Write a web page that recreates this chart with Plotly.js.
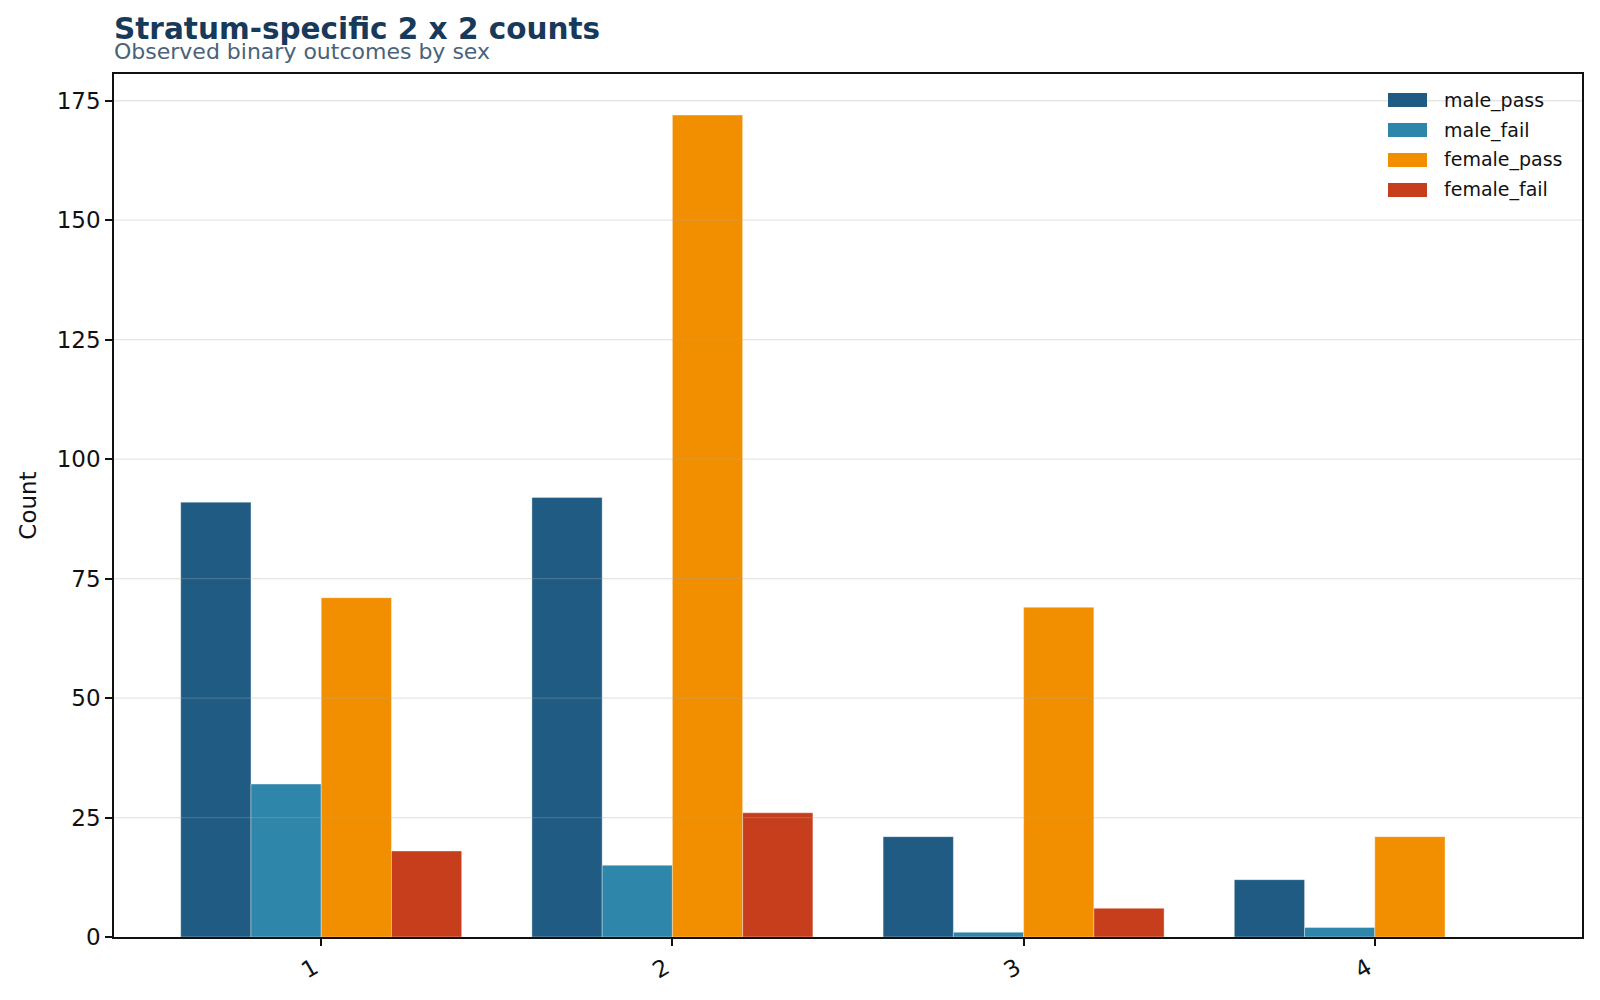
<!DOCTYPE html>
<html>
<head>
<meta charset="utf-8">
<script src="https://cdn.plot.ly/plotly-3.0.1.min.js"></script>
<style>
  html, body { margin: 0; padding: 0; background: #ffffff; }
  #chart { width: 1600px; height: 1000px; }
</style>
</head>
<body>
<div id="chart"></div>
<script>
// Strata and per-stratum counts of pass/fail outcomes by sex
const strata = [1, 2, 3, 4];
const malePass = [91, 92, 21, 12];
const maleFail = [32, 15, 1, 2];
const femalePass = [71, 172, 69, 21];
const femaleFail = [18, 26, 6, 0];
const countTicks = [0, 25, 50, 75, 100, 125, 150, 175];

const seriesNames = ['male_pass', 'male_fail', 'female_pass', 'female_fail'];
const seriesValues = [malePass, maleFail, femalePass, femaleFail];
const seriesColors = ['#1f5b83', '#2e86ab', '#f18f01', '#c73e1d'];

const font = 'DejaVu Sans, Verdana, sans-serif';

// Figure geometry (pixels)
const W = 1600, H = 1000;
const M = { l: 114, r: 18, t: 74, b: 63 };
const plotW = W - M.l - M.r;
const plotH = H - M.t - M.b;
const px2x = (px) => (px - M.l) / plotW;
const py2y = (py) => 1 - (py - M.t) / plotH;

const traces = seriesNames.map((name, i) => ({
  type: 'bar',
  name: name,
  x: strata,
  y: seriesValues[i],
  marker: {
    color: seriesColors[i],
    line: { color: 'rgba(255,255,255,0.6)', width: 0.6 }
  },
  showlegend: false,
  hoverinfo: 'x+y+name'
}));

const shapes = [];
const annotations = [];

// Translucent horizontal gridlines drawn over the bars
countTicks.filter((v) => v > 0).forEach((v) => {
  shapes.push({
    type: 'line', xref: 'paper', yref: 'y',
    x0: 0, x1: 1, y0: v, y1: v,
    line: { color: 'rgba(170,170,170,0.3)', width: 1.3 },
    layer: 'above'
  });
});

// Legend drawn as wide swatches with labels in the upper-right corner
const legendTop = 100, legendStep = 30, swatchH = 14;
const swatchX0 = 1388, swatchX1 = 1427, labelX = 1442;
seriesNames.forEach((name, i) => {
  const cy = legendTop + i * legendStep;
  shapes.push({
    type: 'rect', xref: 'paper', yref: 'paper',
    x0: px2x(swatchX0), x1: px2x(swatchX1),
    y0: py2y(cy + swatchH / 2), y1: py2y(cy - swatchH / 2),
    fillcolor: seriesColors[i], line: { width: 0 }, layer: 'above'
  });
  annotations.push({
    xref: 'paper', yref: 'paper',
    x: px2x(labelX), y: py2y(cy),
    xanchor: 'left', yanchor: 'middle',
    text: name, showarrow: false,
    font: { family: font, size: 19, color: '#111111' }
  });
});

// Title and subtitle, left-aligned with the plot frame
annotations.push({
  xref: 'paper', yref: 'paper', x: 0, y: py2y(29),
  xanchor: 'left', yanchor: 'middle', xshift: -2,
  text: '<b>Stratum-specific 2 x 2 counts</b>', showarrow: false,
  font: { family: font, size: 29.5, color: '#17395a' }
});
annotations.push({
  xref: 'paper', yref: 'paper', x: 0, y: py2y(51),
  xanchor: 'left', yanchor: 'middle', xshift: -2,
  text: 'Observed binary outcomes by sex', showarrow: false,
  font: { family: font, size: 22, color: '#4a627a' }
});

const layout = {
  width: W,
  height: H,
  paper_bgcolor: '#ffffff',
  plot_bgcolor: '#ffffff',
  barmode: 'group',
  bargap: 0.2,
  bargroupgap: 0,
  margin: M,
  font: { family: font, color: '#111111', size: 23 },
  showlegend: false,
  xaxis: {
    type: 'linear',
    range: [0.41, 4.59],
    tickmode: 'array',
    tickvals: strata,
    ticktext: strata.map(String),
    tickangle: -30,
    ticklabelshift: -7,
    ticks: 'outside',
    ticklen: 7,
    tickwidth: 1.5,
    tickcolor: '#111111',
    showgrid: false,
    zeroline: false,
    showline: true,
    linecolor: '#111111',
    linewidth: 1.5,
    mirror: true,
    tickfont: { family: font, size: 23, color: '#111111' }
  },
  yaxis: {
    range: [0, 180.6],
    tickmode: 'array',
    tickvals: countTicks,
    ticks: 'outside',
    ticklen: 7,
    tickwidth: 1.5,
    tickcolor: '#111111',
    showgrid: false,
    zeroline: false,
    showline: true,
    linecolor: '#111111',
    linewidth: 1.5,
    mirror: true,
    tickfont: { family: font, size: 23, color: '#111111' },
    title: {
      text: 'Count',
      font: { family: font, size: 23, color: '#111111' },
      standoff: 14
    }
  },
  shapes: shapes,
  annotations: annotations
};

Plotly.newPlot('chart', traces, layout, { displayModeBar: false, responsive: false });
</script>
</body>
</html>
